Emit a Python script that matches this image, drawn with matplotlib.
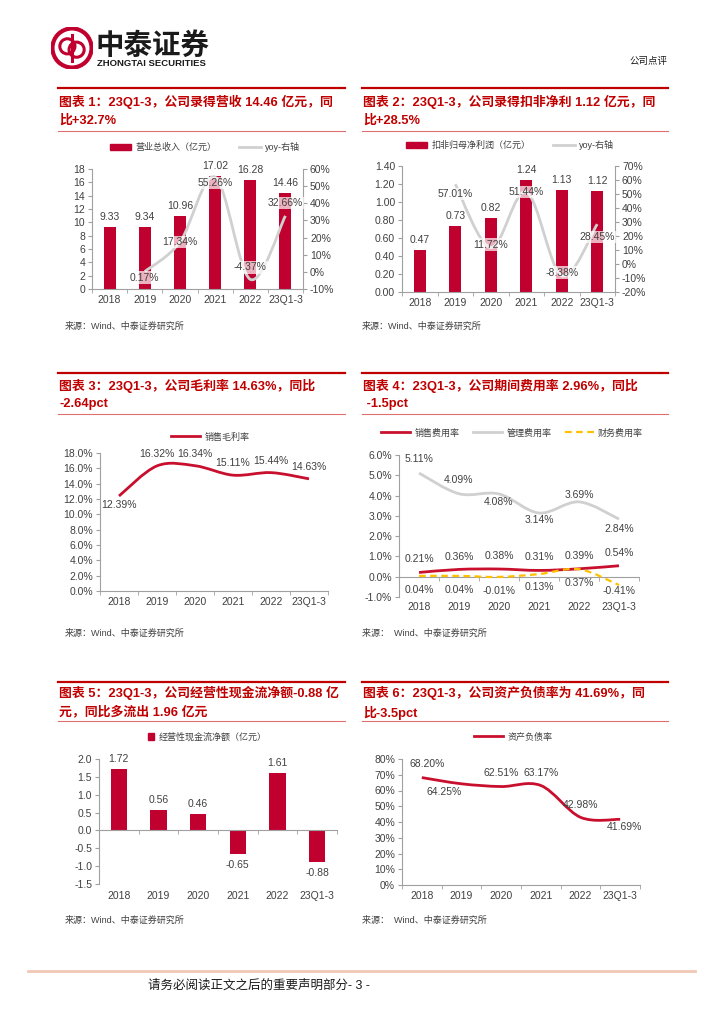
import matplotlib
matplotlib.use("Agg")
import matplotlib.pyplot as plt
import matplotlib.transforms as mtransforms
from matplotlib.path import Path
from matplotlib.patches import PathPatch, Circle, Rectangle
from matplotlib.lines import Line2D

plt.rcParams['font.family'] = ['Liberation Sans', 'Noto Sans CJK SC']
plt.rcParams['axes.unicode_minus'] = False

# ---- data ----
YEARS = ["2018", "2019", "2020", "2021", "2022", "23Q1-3"]
REVENUE = [9.33, 9.34, 10.96, 17.02, 16.28, 14.46]          # 亿元
REVENUE_YOY = [None, 0.17, 17.34, 55.26, -4.37, 32.66]     # %
PROFIT = [0.47, 0.73, 0.82, 1.24, 1.13, 1.12]              # 亿元
PROFIT_YOY = [None, 57.01, 11.72, 51.44, -8.38, 28.45]     # %
GROSS = [12.39, 16.32, 16.34, 15.11, 15.44, 14.63]         # %
SELL = [0.21, 0.36, 0.38, 0.31, 0.39, 0.54]                # %
ADMIN = [5.11, 4.09, 4.08, 3.14, 3.69, 2.84]               # %
FIN = [0.04, 0.04, -0.01, 0.13, 0.37, -0.41]               # %
CASH = [1.72, 0.56, 0.46, -0.65, 1.61, -0.88]              # 亿元
DEBT = [68.20, 64.25, 62.51, 63.17, 42.98, 41.69]          # %

TITLES = [
    "图表 1：23Q1-3，公司录得营收 14.46 亿元，同\n比+32.7%",
    "图表 2：23Q1-3，公司录得扣非净利 1.12 亿元，同\n比+28.5%",
    "图表 3：23Q1-3，公司毛利率 14.63%，同比\n-2.64pct",
    "图表 4：23Q1-3，公司期间费用率 2.96%，同比\n -1.5pct",
    "图表 5：23Q1-3，公司经营性现金流净额-0.88 亿\n元，同比多流出 1.96 亿元",
    "图表 6：23Q1-3，公司资产负债率为 41.69%，同\n比-3.5pct",
]

# ---- styles ----
W, H = 724, 1024
BAR = "#C0002F"
LINE = "#C8102E"
GRAY = "#D0D0D0"
GOLD = "#FFC000"
TRED = "#C00000"
SPINE = "#A0A0A0"
TXT = "#404040"
FS = 7.5

fig = plt.figure(figsize=(W / 100, H / 100), dpi=100)


def px_ax(x0, y0, x1, y1):
    return fig.add_axes([x0 / W, 1 - y1 / H, (x1 - x0) / W, (y1 - y0) / H])


def ftext(x, y, s, **kw):
    fig.text(x / W, 1 - y / H, s, **kw)


def fline(x0, x1, y, **kw):
    fig.add_artist(Line2D([x0 / W, x1 / W], [1 - y / H, 1 - y / H], transform=fig.transFigure, **kw))


def smooth_path(xs, ys):
    pts = list(zip(xs, ys))
    n = len(pts)
    verts, codes = [pts[0]], [Path.MOVETO]
    for i in range(n - 1):
        p0 = pts[i - 1] if i > 0 else pts[i]
        p1, p2 = pts[i], pts[i + 1]
        p3 = pts[i + 2] if i + 2 < n else pts[i + 1]
        c1 = (p1[0] + (p2[0] - p0[0]) / 6, p1[1] + (p2[1] - p0[1]) / 6)
        c2 = (p2[0] - (p3[0] - p1[0]) / 6, p2[1] - (p3[1] - p1[1]) / 6)
        verts += [c1, c2, p2]
        codes += [Path.CURVE4] * 3
    return Path(verts, codes)


def smooth_line(ax, xs, ys, color, lw=2.0, ls="-"):
    ax.add_patch(PathPatch(smooth_path(xs, ys), fill=False, edgecolor=color,
                           lw=lw, linestyle=ls, capstyle="butt", zorder=3))


def style(ax, right=False):
    for s in ("top", "right", "left", "bottom"):
        ax.spines[s].set_visible(False)
    side = "right" if right else "left"
    ax.spines[side].set_visible(True)
    ax.spines[side].set_color(SPINE)
    ax.spines["bottom"].set_visible(True)
    ax.spines["bottom"].set_color(SPINE)
    ax.tick_params(axis="y", length=3, color=SPINE, labelsize=FS, labelcolor=TXT, pad=2)


def cat_axis(ax, at_zero=False, label_px=11):
    ax.set_xlim(-0.5, 5.5)
    ax.set_xticks(range(len(YEARS)))
    ax.set_xticks([i - 0.5 for i in range(len(YEARS) + 1)], minor=True)
    ax.tick_params(axis="x", which="minor", length=3, color=SPINE)
    if at_zero:
        ax.spines["bottom"].set_position(("data", 0))
        ax.set_xticklabels([])
        ax.tick_params(axis="x", which="major", length=0)
        tr = mtransforms.offset_copy(ax.get_xaxis_transform(), fig=fig, y=-label_px * 0.72, units="points")
        for i, yr in enumerate(YEARS):
            ax.text(i, 0, yr, transform=tr, ha="center", va="center", fontsize=FS, color=TXT)
    else:
        ax.set_xticklabels(YEARS)
        ax.tick_params(axis="x", which="major", length=0, labelsize=FS, labelcolor=TXT, pad=4)


def label(ax, x, y, s, dx=0, dy=0, box=False):
    kw = dict(ha="center", va="center", fontsize=FS, color=TXT,
              textcoords="offset points", xytext=(dx * 0.72, dy * 0.72), annotation_clip=False, zorder=5)
    if box:
        kw["bbox"] = dict(boxstyle="square,pad=0.12", fc="white", ec="none", alpha=0.7)
    ax.annotate(s, (x, y), **kw)


def legend(handles, labels, cx, cy, **kw):
    fig.legend(handles, labels, loc="center", bbox_to_anchor=(cx / W, 1 - cy / H), frameon=False,
               fontsize=6.5, ncol=len(handles), handlelength=kw.pop("hl", 3.0),
               handleheight=kw.pop("hh", 0.7), columnspacing=kw.pop("cs", 2.5),
               handletextpad=0.5, labelcolor=TXT, **kw)


def title_block(x0, x1, y_top, y_bot, text):
    fline(x0, x1, y_top, color=TRED, lw=1.6)
    fline(x0, x1, y_bot, color="#E07070", lw=0.8)
    ftext(x0 + 1, (y_top + y_bot) / 2 + 1, text, fontsize=9.3, color=TRED, fontweight="bold",
          va="center", ha="left", linespacing=1.55)


def source(x, y, s="来源：Wind、中泰证券研究所"):
    ftext(x, y, s, fontsize=6.5, color=TXT, va="center", ha="left")


# ---- header ----
logo = px_ax(51, 27, 93, 69)
logo.set_xlim(-1, 1); logo.set_ylim(-1, 1); logo.set_aspect("equal"); logo.axis("off")
logo.add_patch(Circle((0, 0), 0.93, fc="none", ec=BAR, lw=3))
logo.add_patch(Circle((-0.22, 0.08), 0.36, fc="none", ec=BAR, lw=2.2))
logo.add_patch(Circle((0.22, -0.08), 0.36, fc="none", ec=BAR, lw=2.2))
logo.plot([0, 0], [-0.6, 0.6], color=BAR, lw=2.2)
ftext(96, 46, "中泰证券", fontsize=20.5, fontweight="bold", color="#1A1A1A", va="center", ha="left")
ftext(97, 64, "ZHONGTAI SECURITIES", fontsize=6.8, fontweight="bold", color="#1A1A1A", va="center", ha="left")
ftext(668, 61, "公司点评", fontsize=6.8, color="#1A1A1A", va="center", ha="right")

# ---- title blocks ----
title_block(58, 345, 88, 131, TITLES[0])
title_block(362, 668, 88, 131, TITLES[1])
title_block(58, 345, 373, 414, TITLES[2])
title_block(362, 668, 373, 414, TITLES[3])
title_block(58, 345, 682, 721, TITLES[4])
title_block(362, 668, 682, 721, TITLES[5])

X = list(range(len(YEARS)))

# ---- chart 1: revenue ----
ax = px_ax(92, 169, 303, 289)
style(ax)
ax.bar(X, REVENUE, width=0.34, color=BAR, zorder=2)
ax.set_ylim(0, 18)
ax.set_yticks(range(0, 19, 2))
cat_axis(ax)
for i, v in enumerate(REVENUE):
    label(ax, i, v, f"{v:.2f}", dy=10)
ax2 = ax.twinx()
style(ax2, right=True)
ax2.spines["bottom"].set_visible(False)
ax2.set_ylim(-10, 60)
ax2.set_yticks(range(-10, 61, 10))
ax2.set_yticklabels([f"{t}%" for t in range(-10, 61, 10)])
xs = [i for i, v in enumerate(REVENUE_YOY) if v is not None]
ys = [v for v in REVENUE_YOY if v is not None]
smooth_line(ax2, xs, ys, GRAY, lw=2.0)
off1 = [0, -6, 0, -6, 12, 13]
for i, v in zip(xs, ys):
    label(ax2, i, v, f"{v:.2f}%", dy=off1[i], box=True)
legend([Rectangle((0, 0), 1, 1, color=BAR), Line2D([], [], color=GRAY, lw=2)],
       ["营业总收入（亿元）", "yoy-右轴"], 205, 147, hl=2.4)
source(65, 326)

# ---- chart 2: net profit ----
ax = px_ax(402, 166, 615, 292)
style(ax)
ax.bar(X, PROFIT, width=0.34, color=BAR, zorder=2)
ax.set_ylim(0, 1.4)
ax.set_yticks([i * 0.2 for i in range(8)])
ax.set_yticklabels([f"{i * 0.2:.2f}" for i in range(8)])
cat_axis(ax)
for i, v in enumerate(PROFIT):
    label(ax, i, v, f"{v:.2f}", dy=10)
ax2 = ax.twinx()
style(ax2, right=True)
ax2.spines["bottom"].set_visible(False)
ax2.set_ylim(-20, 70)
ax2.set_yticks(range(-20, 71, 10))
ax2.set_yticklabels([f"{t}%" for t in range(-20, 71, 10)])
xs = [i for i, v in enumerate(PROFIT_YOY) if v is not None]
ys = [v for v in PROFIT_YOY if v is not None]
smooth_line(ax2, xs, ys, GRAY, lw=2.0)
off2 = [0, -10, 3, 0, 3, -13]
for i, v in zip(xs, ys):
    label(ax2, i, v, f"{v:.2f}%", dy=off2[i], box=True)
legend([Rectangle((0, 0), 1, 1, color=BAR), Line2D([], [], color=GRAY, lw=2)],
       ["扣非归母净利润（亿元）", "yoy-右轴"], 510, 145, hl=2.4)
source(362, 326)

# ---- chart 3: gross margin ----
ax = px_ax(100, 453, 328, 591)
style(ax)
ax.set_ylim(0, 18)
ax.set_yticks(range(0, 19, 2))
ax.set_yticklabels([f"{t:.1f}%" for t in range(0, 19, 2)])
cat_axis(ax, label_px=10)
smooth_line(ax, X, GROSS, LINE, lw=2.0)
off3 = [-9, 12, 12, 12, 12, 12]
for i, v in enumerate(GROSS):
    label(ax, i, v, f"{v:.2f}%", dy=off3[i])
legend([Line2D([], [], color=LINE, lw=2)], ["销售毛利率"], 210, 437, hl=3.2)
source(65, 633)

# ---- chart 4: expense ratios ----
ax = px_ax(399, 455, 639, 597)
style(ax)
ax.set_ylim(-1, 6)
ax.set_yticks(range(-1, 7))
ax.set_yticklabels([f"{t:.1f}%" for t in range(-1, 7)])
cat_axis(ax, at_zero=True, label_px=10)
smooth_line(ax, X, ADMIN, GRAY, lw=2.0)
smooth_line(ax, X, SELL, LINE, lw=2.0)
smooth_line(ax, X, FIN, GOLD, lw=1.6, ls=(0, (3, 2)))
off_admin = [14, 14, -8, -7, 7, -10]
off_sell = [13, 12, 13, 13, 13, 13]
off_fin = [-14, -14, -14, -13, -14, -6]
for i in X:
    label(ax, i, ADMIN[i], f"{ADMIN[i]:.2f}%", dy=off_admin[i])
    label(ax, i, SELL[i], f"{SELL[i]:.2f}%", dy=off_sell[i])
    label(ax, i, FIN[i], f"{FIN[i]:.2f}%", dy=off_fin[i])
legend([Line2D([], [], color=LINE, lw=2), Line2D([], [], color=GRAY, lw=2),
        Line2D([], [], color=GOLD, lw=1.6, ls=(0, (3, 2)))],
       ["销售费用率", "管理费用率", "财务费用率"], 512, 433, hl=3.2, cs=1.5)
source(362, 633, "来源：  Wind、中泰证券研究所")

# ---- chart 5: operating cash flow ----
ax = px_ax(99, 759, 337, 884)
style(ax)
ax.bar(X, CASH, width=0.42, color=BAR, zorder=2)
ax.set_ylim(-1.5, 2.0)
ax.set_yticks([-1.5 + 0.5 * i for i in range(8)])
ax.set_yticklabels([f"{-1.5 + 0.5 * i:.1f}" for i in range(8)])
cat_axis(ax, at_zero=True, label_px=12)
for i, v in enumerate(CASH):
    label(ax, i, v, f"{v:.2f}", dy=10 if v >= 0 else -11)
legend([Rectangle((0, 0), 1, 1, color=BAR)], ["经营性现金流净额（亿元）"], 207, 737, hl=0.7, hh=0.9)
source(65, 920)

# ---- chart 6: debt ratio ----
ax = px_ax(402, 759, 640, 885)
style(ax)
ax.set_ylim(0, 80)
ax.set_yticks(range(0, 81, 10))
ax.set_yticklabels([f"{t}%" for t in range(0, 81, 10)])
cat_axis(ax, label_px=10)
smooth_line(ax, X, DEBT, LINE, lw=2.0)
off6 = [(5, 14), (-17, -8), (0, 14), (0, 13), (0, 12), (4, -8)]
for i, v in enumerate(DEBT):
    label(ax, i, v, f"{v:.2f}%", dx=off6[i][0], dy=off6[i][1])
legend([Line2D([], [], color=LINE, lw=2)], ["资产负债率"], 513, 737, hl=3.2)
source(362, 920, "来源：  Wind、中泰证券研究所")

# ---- footer ----
fline(28, 695, 971, color="#F0C8B4", lw=2)
ftext(148, 986, "请务必阅读正文之后的重要声明部分- 3 -", fontsize=9, color="#1A1A1A", va="center", ha="left")

fig.savefig("out.png", dpi=100)
